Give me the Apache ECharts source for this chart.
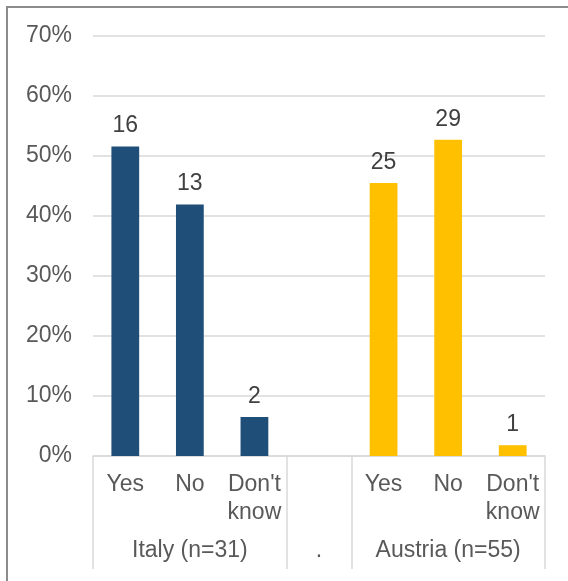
<!DOCTYPE html>
<html>
<head>
<meta charset="utf-8">
<script src="https://cdn.jsdelivr.net/npm/echarts@6/dist/echarts.min.js"></script>
<style>
html,body{margin:0;padding:0;background:#fff;}
#chart{width:568px;height:581px;}
</style>
</head>
<body>
<div id="chart"></div>
<script>
// Data
const categories = ['Yes', 'No', "Don't\nknow", '', 'Yes', 'No', "Don't\nknow"];
const groupLabels = ['', 'Italy (n=31)', '', '.', '', 'Austria (n=55)', ''];
const italyPct = [51.6, 41.9, 6.5, null, null, null, null];
const austriaPct = [null, null, null, null, 45.5, 52.7, 1.8];
const italyCounts = [16, 13, 2, null, null, null, null];
const austriaCounts = [null, null, null, null, 25, 29, 1];
const yTicks = [0, 10, 20, 30, 40, 50, 60, 70];

const FONT = 'Liberation Sans, Arial, sans-serif';
const chart = echarts.init(document.getElementById('chart'), null, {renderer: 'canvas'});

function labelCfg(counts) {
  return {
    show: true,
    position: 'top',
    distance: 9,
    fontSize: 23,
    fontFamily: FONT,
    color: '#404040',
    formatter: p => counts[p.dataIndex] == null ? '' : String(counts[p.dataIndex])
  };
}

chart.setOption({
  animation: false,
  textStyle: {fontFamily: FONT},
  grid: {left: 93, right: 23, top: 36, bottom: 125, containLabel: false},
  graphic: [{
    type: 'polyline',
    shape: {points: [[7, 700], [7, 7], [700, 7]]},
    style: {stroke: '#8c8c8c', lineWidth: 2, fill: null},
    silent: true
  }],
  xAxis: [{
    type: 'category',
    data: categories,
    position: 'bottom',
    axisLine: {show: true, lineStyle: {color: '#d9d9d9', width: 1.5}},
    axisTick: {show: false},
    axisLabel: {interval: 0, fontSize: 23, color: '#595959', fontFamily: FONT, lineHeight: 28, margin: 15}
  }, {
    type: 'category',
    data: groupLabels,
    position: 'bottom',
    axisLine: {show: false},
    axisTick: {
      show: true,
      length: 113,
      interval: (i) => i === 0 || i === 3 || i === 4,
      lineStyle: {color: '#d9d9d9', width: 1.5}
    },
    axisLabel: {interval: 0, fontSize: 23, color: '#595959', fontFamily: FONT, margin: 83}
  }],
  yAxis: {
    type: 'value',
    min: yTicks[0],
    max: yTicks[yTicks.length - 1],
    interval: 10,
    axisLine: {show: false},
    axisTick: {show: false},
    splitLine: {lineStyle: {color: '#d9d9d9', width: 1.5}},
    axisLabel: {formatter: '{value}%', fontSize: 23, color: '#595959', fontFamily: FONT, margin: 21}
  },
  series: [{
    name: 'Italy',
    type: 'bar',
    stack: 'all',
    barWidth: '43%',
    data: italyPct,
    itemStyle: {color: '#1F4E79'},
    label: labelCfg(italyCounts)
  }, {
    name: 'Austria',
    type: 'bar',
    stack: 'all',
    barWidth: '43%',
    data: austriaPct,
    itemStyle: {color: '#FFC000'},
    label: labelCfg(austriaCounts)
  }]
});
</script>
</body>
</html>
